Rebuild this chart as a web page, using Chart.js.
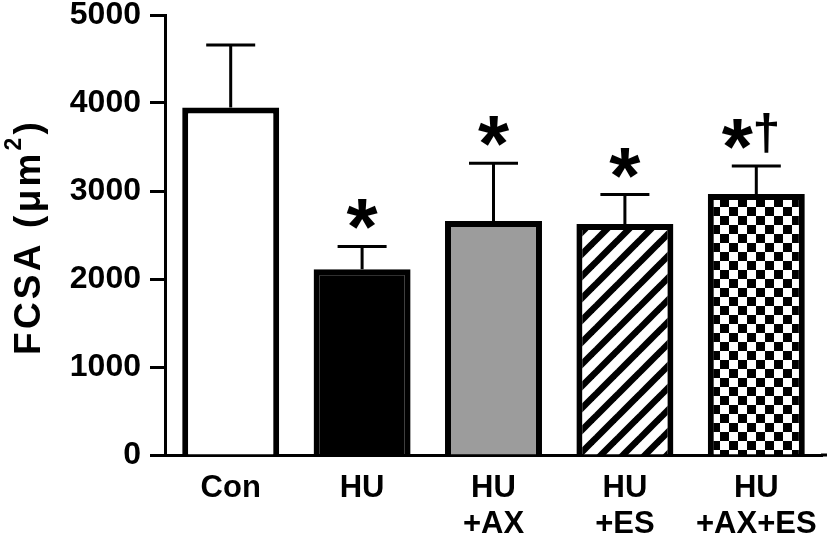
<!DOCTYPE html>
<html>
<head>
<meta charset="utf-8">
<script src="https://cdn.jsdelivr.net/npm/chart.js@4.4.0/dist/chart.umd.min.js"></script>
<style>
html,body{margin:0;padding:0;background:#fff;}
#wrap{width:827px;height:536px;position:relative;}
</style>
</head>
<body>
<div id="wrap"><canvas id="c" width="827" height="536"></canvas></div>
<script>
// ---- data ----
const categories = [['Con'], ['HU'], ['HU', '+AX'], ['HU', '+ES'], ['HU', '+AX+ES']];
const means = [3950, 2110, 2660, 2625, 2965];
const errors = [710, 260, 655, 335, 320];
const starMarks = ['', '*', '*', '*', '*'];
const daggerMarks = ['', '', '', '', '†'];
const yTickStep = 1000;
const yMax = 5000;
const yTitleMain = 'FCSA (μm';
const yTitleSup = '2';
const yTitleEnd = ')';

const FONT = '"Liberation Sans", Arial, sans-serif';

function stripePattern() {
  const P = 22;
  const cv = document.createElement('canvas');
  cv.width = P; cv.height = P;
  const g = cv.getContext('2d');
  g.fillStyle = '#fff'; g.fillRect(0, 0, P, P);
  g.strokeStyle = '#000'; g.lineWidth = 6.5; g.lineCap = 'butt';
  for (let k = -1; k <= 1; k++) {
    g.beginPath();
    g.moveTo(k * P - 2, P + 2);
    g.lineTo(k * P + P + 2, -2);
    g.stroke();
  }
  const ctx = document.createElement('canvas').getContext('2d');
  return ctx.createPattern(cv, 'repeat');
}
function checkerPattern() {
  const S = 9;
  const cv = document.createElement('canvas');
  cv.width = 2 * S; cv.height = 2 * S;
  const g = cv.getContext('2d');
  g.fillStyle = '#fff'; g.fillRect(0, 0, 2 * S, 2 * S);
  g.fillStyle = '#000';
  g.fillRect(0, 0, S, S); g.fillRect(S, S, S, S);
  const ctx = document.createElement('canvas').getContext('2d');
  return ctx.createPattern(cv, 'repeat');
}

const fills = ['#ffffff', '#000000', '#9c9c9c', stripePattern(), checkerPattern()];

const overlay = {
  id: 'overlay',
  afterDatasetsDraw(chart) {
    const ctx = chart.ctx;
    const y = chart.scales.y;
    const meta = chart.getDatasetMeta(0);
    ctx.save();
    ctx.strokeStyle = '#000';
    ctx.fillStyle = '#000';
    ctx.lineWidth = 3;
    meta.data.forEach((bar, i) => {
      const x = bar.x;
      const yb = y.getPixelForValue(means[i]);
      const yt = y.getPixelForValue(means[i] + errors[i]);
      ctx.beginPath();
      ctx.moveTo(x, yb); ctx.lineTo(x, yt);
      ctx.moveTo(x - 24.5, yt); ctx.lineTo(x + 24.5, yt);
      ctx.stroke();
      const hasDag = daggerMarks[i] !== '';
      if (starMarks[i]) {
        ctx.font = 'bold 80px ' + FONT;
        ctx.textAlign = 'center';
        ctx.textBaseline = 'alphabetic';
        const m = ctx.measureText(starMarks[i]);
        const cy = yt - 32;
        const base = cy + (m.actualBoundingBoxAscent - m.actualBoundingBoxDescent) / 2;
        const sx = hasDag ? x - 19 : x;
        ctx.fillText(starMarks[i], sx, base);
      }
      if (hasDag) {
        ctx.font = 'bold 50px ' + FONT;
        ctx.textAlign = 'center';
        const m = ctx.measureText(daggerMarks[i]);
        const cy = yt - 32.5;
        const base = cy + (m.actualBoundingBoxAscent - m.actualBoundingBoxDescent) / 2;
        ctx.fillText(daggerMarks[i], x + 10, base);
      }
    });
    ctx.restore();
  },
  afterDraw(chart) {
    const ctx = chart.ctx;
    const a = chart.chartArea;
    ctx.save();
    ctx.fillStyle = '#000';
    ctx.fillRect(a.right - 1, a.bottom - 1.5, chart.width - a.right + 1, 3);
    // y axis title
    ctx.translate(40, 238.5);
    ctx.rotate(-Math.PI / 2);
    ctx.textBaseline = 'alphabetic';
    ctx.textAlign = 'left';
    const sp = 3.2;
    const mainFont = 'bold 37px ' + FONT;
    const supFont = 'bold 23px ' + FONT;
    const parts = [];
    for (const ch of yTitleMain) parts.push({ ch, font: mainFont, dy: 0 });
    parts.push({ ch: yTitleSup, font: supFont, dy: -19 });
    for (const ch of yTitleEnd) parts.push({ ch, font: mainFont, dy: 0 });
    let total = 0;
    parts.forEach((p, k) => {
      ctx.font = p.font;
      p.w = ctx.measureText(p.ch).width;
      total += p.w + (k < parts.length - 1 ? sp : 0);
    });
    let xx = -total / 2;
    parts.forEach(p => {
      ctx.font = p.font;
      ctx.fillText(p.ch, xx, p.dy);
      xx += p.w + sp;
    });
    ctx.restore();
  }
};

new Chart(document.getElementById('c'), {
  type: 'bar',
  data: {
    labels: categories,
    datasets: [{
      data: means,
      backgroundColor: fills,
      borderColor: '#000',
      borderWidth: 6,
      borderSkipped: 'bottom',
      barPercentage: 0.738,
      categoryPercentage: 1.0
    }]
  },
  options: {
    responsive: false,
    animation: false,
    devicePixelRatio: 1,
    layout: { autoPadding: false, padding: { top: 15, right: 5, left: 0, bottom: 0 } },
    plugins: { legend: { display: false }, tooltip: { enabled: false } },
    scales: {
      x: {
        grid: { display: false },
        border: { display: true, color: '#000', width: 3 },
        ticks: {
          color: '#000',
          font: { family: FONT, size: 31, weight: 'bold', lineHeight: 1.18 },
          padding: 7,
          maxRotation: 0, autoSkip: false
        },
        afterFit(s) { s.height = 81; s.paddingLeft = 0; s.paddingRight = 0; }
      },
      y: {
        min: 0, max: yMax,
        grid: { display: true, drawOnChartArea: false, drawTicks: true, tickLength: 15, tickWidth: 3, tickColor: '#000' },
        border: { display: true, color: '#000', width: 3 },
        ticks: {
          stepSize: yTickStep,
          color: '#000',
          font: { family: FONT, size: 32, weight: 'bold' },
          padding: 9,
          callback: (v) => String(v)
        },
        afterFit(s) { s.width = 165; s.paddingTop = 0; s.paddingBottom = 0; }
      }
    }
  },
  plugins: [overlay]
});
</script>
</body>
</html>
